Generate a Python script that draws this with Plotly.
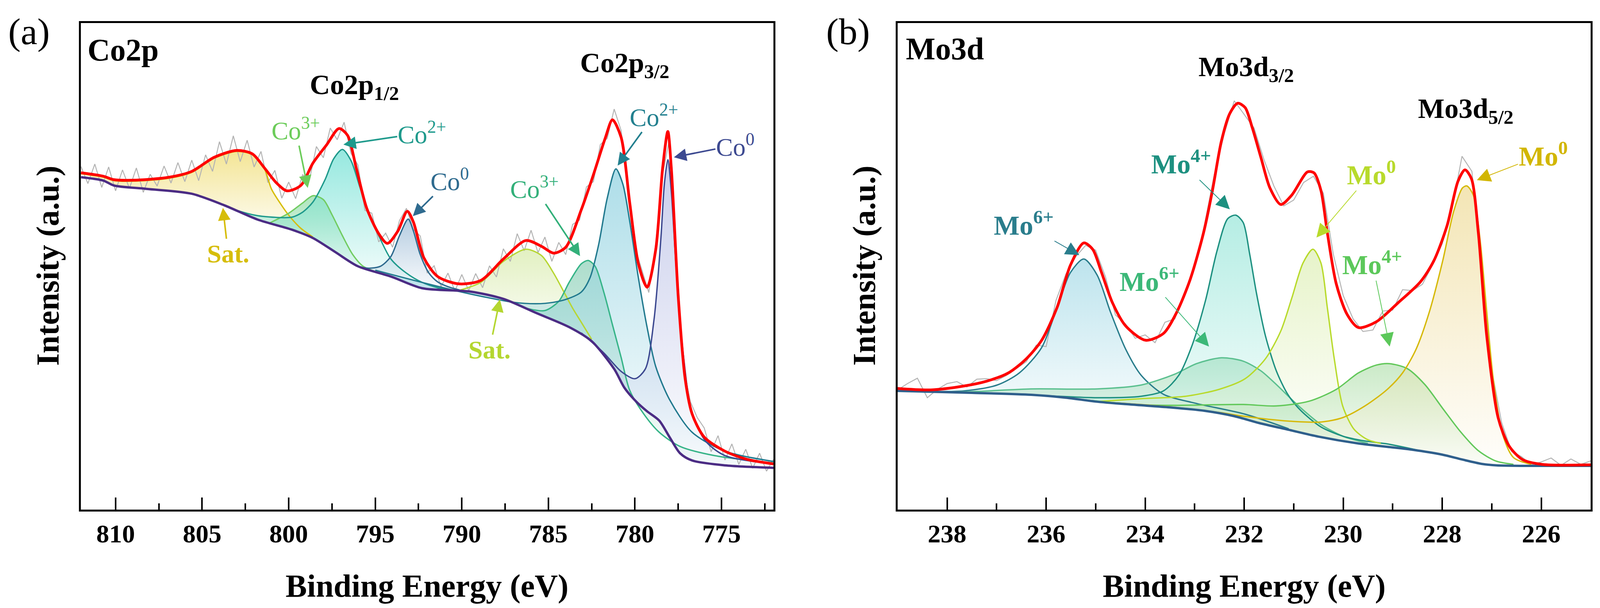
import plotly.graph_objects as go

# ── panel (a) Co2p : values ───────────────────────────────────────────────────

RED_A_E = [812.0, 810.7, 810.1, 808.8, 806.9, 805.6, 804.3, 803.0, 802.1, 801.4, 800.7, 800.1,
           799.3, 798.6, 797.8, 797.1, 796.6, 796.1, 795.5, 794.8, 794.3, 793.7, 793.15, 792.8,
           792.2, 791.4, 790.2, 788.9, 787.6, 786.3, 785.4, 784.7, 784.0, 783.1, 782.4, 781.7,
           781.3, 780.8, 780.3, 779.8, 779.3, 778.8, 778.4, 778.1, 777.9, 777.5, 777.1, 776.7,
           776.0, 774.8, 773.5, 772.0]
RED_A_I = [69.2, 68.5, 67.8, 67.7, 68.3, 69.5, 72.4, 73.8, 73.1, 70.2, 67.1, 65.5,
           66.6, 71.2, 75.0, 78.3, 76.9, 70.2, 62.0, 56.7, 54.7, 57.2, 61.3, 59.1,
           51.8, 47.9, 46.4, 47.1, 51.5, 55.3, 54.1, 52.7, 53.9, 61.6, 68.8, 76.5,
           80.1, 76.5, 63.0, 50.5, 45.7, 53.4, 70.2, 77.7, 70.2, 43.8, 26.9, 19.7,
           14.9, 12.0, 10.3, 9.4]

BG_A_E = [812.0, 810.7, 810.1, 808.2, 805.6, 803.7, 801.8, 799.8, 798.6, 797.3, 796.0, 794.1,
          792.3, 789.5, 787.6, 785.7, 783.8, 782.5, 781.2, 780.6, 779.9, 779.3, 778.6, 778.0,
          777.4, 776.7, 774.8, 772.0]
BG_A_I = [68.3, 67.6, 66.6, 65.9, 64.9, 62.5, 59.6, 57.5, 55.8, 52.9, 50.0, 47.9,
          45.5, 44.8, 43.3, 40.4, 37.5, 34.6, 28.9, 25.0, 22.1, 20.2, 18.3, 14.9,
          11.6, 10.1, 9.1, 8.6]

RAW_A_E = [812.0, 811.6, 811.2, 810.8, 810.4, 810.0, 809.6, 809.2, 808.8, 808.4, 808.0, 807.6,
           807.2, 806.8, 806.4, 806.0, 805.6, 805.2, 804.8, 804.4, 804.0, 803.6, 803.2, 802.8,
           802.4, 802.0, 801.6, 801.2, 800.8, 800.4, 800.0, 799.6, 799.2, 798.8, 798.4, 798.0,
           797.6, 797.2, 796.8, 796.4, 796.0, 795.6, 795.2, 794.8, 794.4, 794.0, 793.6, 793.2,
           792.8, 792.4, 792.0, 791.6, 791.2, 790.8, 790.4, 790.0, 789.6, 789.2, 788.8, 788.4,
           788.0, 787.6, 787.2, 786.8, 786.4, 786.0, 785.6, 785.2, 784.8, 784.4, 784.0, 783.6,
           783.2, 782.8, 782.4, 782.0, 781.6, 781.2, 780.8, 780.4, 780.0, 779.6, 779.2, 778.8,
           778.4, 778.0, 777.6, 777.2, 776.8, 776.4, 776.0, 775.6, 775.2, 774.8, 774.4, 774.0,
           773.6, 773.2, 772.8, 772.4, 772.0]
RAW_A_I = [70.5, 67.0, 71.0, 66.2, 70.4, 65.5, 69.8, 66.0, 70.2, 65.2, 68.9, 66.5,
           70.6, 67.1, 71.3, 67.4, 71.8, 67.6, 72.9, 69.5, 75.6, 71.0, 76.8, 71.5,
           75.9, 70.4, 73.6, 67.2, 69.7, 64.0, 67.3, 63.9, 68.8, 67.8, 74.6, 72.3,
           78.4, 76.0, 79.6, 73.2, 70.8, 61.5, 60.9, 55.0, 56.8, 53.9, 59.4, 61.9,
           57.6, 56.2, 48.6, 50.1, 45.8, 48.6, 44.9, 48.3, 45.0, 48.5, 45.6, 50.1,
           47.8, 53.6, 51.0, 56.7, 53.2, 57.4, 52.8, 56.0, 51.0, 54.9, 52.4, 58.6,
           59.5, 66.3, 67.4, 75.0, 76.3, 82.3, 77.9, 67.0, 53.9, 49.2, 44.6, 54.6,
           68.9, 76.3, 51.8, 29.4, 22.2, 18.9, 16.8, 11.9, 15.2, 10.2, 13.5, 9.3,
           12.4, 8.5, 11.6, 7.9, 10.3]

# fitted components (energy, intensity)
SAT1_A_E = [812.0, 810.7, 810.1, 808.8, 806.9, 805.6, 804.3, 803.0, 802.1, 801.4, 801.0, 800.5,
            800.0, 799.3, 798.6]
SAT1_A_I = [69.0, 68.3, 67.6, 67.5, 68.1, 69.3, 72.2, 73.6, 72.9, 70.0, 65.9, 63.0,
            60.5, 57.8, 56.0]
CO3_1_A_E = [801.1, 800.0, 799.2, 798.6, 798.0, 797.5, 796.9, 796.3, 795.7, 794.8]
CO3_1_A_I = [58.9, 60.9, 63.0, 64.5, 63.7, 60.6, 56.3, 52.4, 50.0, 48.7]
CO2_1_A_E = [804.5, 803.0, 801.8, 800.5, 799.8, 799.2, 798.6, 797.9, 797.4, 796.9, 796.4, 795.9,
             795.4, 794.8, 794.1, 793.2, 792.3, 791.4, 790.5]
CO2_1_A_I = [63.6, 61.5, 60.4, 60.0, 60.1, 61.1, 63.2, 67.8, 72.1, 74.0, 71.7, 66.4,
             61.1, 56.3, 51.5, 48.6, 46.7, 45.6, 45.0]
CO0_1_A_E = [796.0, 795.4, 794.7, 794.1, 793.6, 793.1, 792.8, 792.4, 791.9, 791.4, 790.8, 790.0]
CO0_1_A_I = [50.0, 49.6, 50.0, 52.0, 56.3, 59.7, 57.3, 52.4, 48.6, 46.8, 45.8, 45.0]
SAT2_A_E = [790.2, 788.9, 787.6, 786.3, 785.4, 784.7, 784.1, 783.6, 783.1, 782.5]
SAT2_A_I = [45.0, 46.7, 51.0, 53.5, 52.2, 48.6, 44.7, 41.4, 38.5, 35.0]
CO3_2_A_E = [786.3, 785.2, 784.4, 783.8, 783.1, 782.7, 782.3, 781.8, 781.3, 780.8, 780.3, 779.5,
             778.6, 777.4, 775.4, 772.0]
CO3_2_A_I = [41.4, 40.9, 42.8, 46.7, 50.5, 51.2, 50.0, 44.7, 38.0, 31.3, 24.5, 19.7,
             15.9, 13.0, 11.1, 9.6]
CO2_2_A_E = [795.0, 792.1, 789.5, 787.0, 785.7, 784.7, 783.9, 783.1, 782.6, 782.1, 781.6, 781.1,
             780.7, 780.3, 779.8, 779.3, 778.8, 778.0, 776.7, 774.8, 772.0]
CO2_2_A_I = [49.2, 46.5, 44.3, 42.6, 42.3, 42.6, 43.3, 44.7, 47.6, 54.4, 64.0, 70.0,
             66.9, 59.2, 47.6, 37.5, 29.4, 22.6, 15.9, 12.0, 9.9]
CO0_2_A_E = [783.1, 781.8, 780.8, 780.0, 779.4, 778.9, 778.5, 778.3, 778.1, 777.9, 777.6, 777.2,
             776.7, 775.9, 774.8, 772.0]
CO0_2_A_I = [36.3, 32.2, 28.4, 26.9, 28.9, 39.0, 55.8, 66.9, 71.9, 65.4, 48.6, 31.7,
             19.7, 14.0, 11.1, 9.4]

# ── panel (b) Mo3d ────────────────────────────────────────────────────────────

RED_B_E = [239.0, 238.33, 237.66, 237.2, 236.76, 236.4, 236.09, 235.78, 235.51, 235.24, 235.06,
           234.88, 234.66, 234.39, 233.99, 233.63, 233.36, 233.09, 232.82, 232.64, 232.46, 232.29,
           232.13, 231.98, 231.84, 231.66, 231.48, 231.26, 231.04, 230.72, 230.59, 230.45, 230.32,
           230.14, 229.92, 229.69, 229.33, 228.89, 228.44, 228.17, 227.9, 227.68, 227.54, 227.41,
           227.27, 227.1, 226.87, 226.65, 226.38, 225.98, 225.0]
RED_B_I = [24.9, 24.6, 25.4, 26.4, 28.1, 31.0, 34.8, 41.5, 50.2, 54.8, 53.5,
           48.7, 42.5, 37.7, 34.8, 36.2, 40.6, 47.3, 56.9, 65.6, 75.7, 81.4,
           83.5, 82.6, 78.6, 72.3, 66.1, 62.7, 64.6, 69.4, 69.2, 65.6, 56.9,
           46.4, 40.1, 37.4, 38.6, 42.5, 46.8, 51.1, 58.4, 67.5, 69.8, 68.0,
           56.9, 35.7, 18.9, 13.1, 10.3, 9.3, 9.2]

BG_B_E = [239.0, 237.5, 236.3, 235.6, 235.0, 234.3, 233.5, 232.8, 232.2, 231.7, 231.1, 230.5,
          229.7, 228.6, 228.0, 227.6, 227.2, 226.9, 225.0]
BG_B_I = [24.4, 24.0, 23.6, 23.0, 22.2, 21.6, 21.0, 20.3, 19.2, 17.8, 16.4, 15.0,
          13.6, 12.3, 11.3, 10.3, 9.4, 9.1, 9.0]

RAW_B_E = [239.0, 238.8, 238.6, 238.4, 238.2, 238.0, 237.8, 237.6, 237.4, 237.2, 237.0, 236.8,
           236.6, 236.4, 236.2, 236.0, 235.8, 235.6, 235.4, 235.2, 235.0, 234.8, 234.6, 234.4,
           234.2, 234.0, 233.8, 233.6, 233.4, 233.2, 233.0, 232.8, 232.6, 232.4, 232.2, 232.0,
           231.8, 231.6, 231.4, 231.2, 231.0, 230.8, 230.6, 230.4, 230.2, 230.0, 229.8, 229.6,
           229.4, 229.2, 229.0, 228.8, 228.6, 228.4, 228.2, 228.0, 227.8, 227.6, 227.4, 227.2,
           227.0, 226.8, 226.6, 226.4, 226.2, 226.0, 225.8, 225.6, 225.4, 225.2, 225.0]
RAW_B_I = [24.6, 25.9, 27.0, 23.0, 24.7, 25.9, 26.3, 25.2, 26.8, 26.9, 26.5, 27.6,
           29.0, 30.4, 33.8, 33.5, 43.0, 48.4, 52.0, 54.3, 53.3, 47.8, 40.0, 38.2,
           35.2, 35.9, 34.3, 38.5, 39.2, 44.8, 49.6, 58.6, 69.0, 77.3, 84.0, 81.2,
           78.4, 71.9, 66.5, 62.4, 63.6, 67.2, 68.5, 65.0, 52.5, 44.0, 39.2, 36.6,
           36.9, 40.8, 41.0, 45.2, 45.0, 46.3, 50.2, 54.6, 61.8, 72.6, 69.5, 48.9,
           28.8, 17.9, 12.0, 10.9, 9.2, 9.8, 10.6, 9.1, 10.4, 9.3, 10.0]

MO6_1_B_E = [239.0, 237.66, 236.99, 236.54, 236.09, 235.78, 235.51, 235.24, 234.97, 234.70,
             234.39, 234.08, 233.63, 232.96, 231.98, 231.1]
MO6_1_B_I = [24.4, 24.4, 25.6, 28.1, 33.3, 41.5, 48.7, 51.5, 48.2, 40.6,
             32.9, 27.6, 23.7, 21.8, 19.6, 16.6]
MO6_2_B_E = [239.0, 237.66, 236.31, 234.97, 234.08, 233.41, 232.96, 232.46, 232.02, 231.66,
             231.35, 230.9, 230.45, 230.01, 229.5]
MO6_2_B_I = [24.4, 24.2, 24.8, 24.8, 25.6, 27.8, 30.0, 31.2, 30.5, 28.5,
             25.7, 21.3, 17.5, 15.1, 13.6]
MO4_1_B_E = [236.5, 234.97, 234.08, 233.63, 233.32, 233.05, 232.78, 232.55, 232.33, 232.17,
             232.02, 231.89, 231.75, 231.57, 231.35, 231.12, 230.86, 230.45, 230.01, 229.56,
             229.11, 228.4]
MO4_1_B_I = [23.7, 23.0, 23.3, 24.4, 27.6, 33.8, 43.0, 53.1, 59.8, 60.5,
             59.0, 52.6, 44.4, 35.7, 28.5, 23.7, 20.4, 17.0, 15.1, 14.1,
             13.5, 12.0]
MO0_1_B_E = [235.0, 234.08, 233.18, 232.51, 231.98, 231.57, 231.26, 231.04, 230.81, 230.61,
             230.45, 230.32, 230.18, 230.01, 229.78, 229.51, 229.24]
MO0_1_B_I = [22.2, 22.8, 23.3, 24.7, 26.9, 31.0, 36.7, 43.4, 50.7, 53.5,
             50.7, 41.5, 31.0, 21.3, 16.5, 14.4, 13.6]
MO4_2_B_E = [236.0, 234.0, 232.02, 231.35, 230.68, 230.14, 229.69, 229.33, 229.07, 228.71,
             228.35, 227.99, 227.63, 227.28, 226.92, 226.56]
MO4_2_B_I = [23.4, 21.5, 21.6, 21.3, 22.3, 24.7, 28.1, 29.7, 30.0, 29.0,
             25.7, 20.8, 16.0, 12.2, 10.0, 9.3]
MO0_2_B_E = [234.97, 233.6, 232.46, 232.02, 231.12, 230.45, 230.01, 229.56, 229.11, 228.80,
             228.53, 228.26, 227.99, 227.77, 227.59, 227.5, 227.37, 227.23, 227.1, 226.96,
             226.78, 226.56, 226.2]
MO0_2_B_I = [22.2, 21.2, 19.9, 19.2, 18.2, 18.0, 18.9, 21.3, 24.7, 28.1,
             32.9, 40.6, 51.1, 61.2, 66.1, 66.5, 64.6, 55.0, 40.6, 26.1,
             15.5, 10.7, 9.3]

# ── styles ────────────────────────────────────────────────────────────────────

FONT = "Liberation Serif"

# (energies, intensities, line colour, fill rgb)
COMPONENTS_A = [
    (SAT1_A_E, SAT1_A_I, "#d6bd0a", (240, 222, 120)),
    (CO3_1_A_E, CO3_1_A_I, "#72cc62", (150, 222, 170)),
    (CO2_1_A_E, CO2_1_A_I, "#1f9a8c", (120, 226, 214)),
    (CO0_1_A_E, CO0_1_A_I, "#2f6b8f", (160, 190, 216)),
    (SAT2_A_E, SAT2_A_I, "#b7d634", (218, 236, 176)),
    (CO3_2_A_E, CO3_2_A_I, "#36b488", (150, 212, 190)),
    (CO2_2_A_E, CO2_2_A_I, "#21798e", (150, 212, 226)),
    (CO0_2_A_E, CO0_2_A_I, "#3c4890", (186, 192, 230)),
]
COMPONENTS_B = [
    (MO6_1_B_E, MO6_1_B_I, "#2a7d8c", (170, 220, 232)),
    (MO6_2_B_E, MO6_2_B_I, "#5cc090", (176, 224, 192)),
    (MO4_1_B_E, MO4_1_B_I, "#1d9080", (160, 232, 220)),
    (MO0_1_B_E, MO0_1_B_I, "#b8da2c", (224, 240, 186)),
    (MO4_2_B_E, MO4_2_B_I, "#62c85a", (188, 228, 184)),
    (MO0_2_B_E, MO0_2_B_I, "#d6b90a", (240, 222, 160)),
]


def rgba(rgb, a):
    return f"rgba({rgb[0]},{rgb[1]},{rgb[2]},{a})"


def add_panel(fig, xa, ya, comps, bg_e, bg_i, bg_color, raw_e, raw_i, red_e, red_i):
    # shaded areas: component curve down to the background
    for e, i, lc, frgb in comps:
        lo, hi = min(e), max(e)
        back = [(be, bi) for be, bi in zip(bg_e, bg_i) if lo < be < hi][::-1]
        px = list(e) + [p[0] for p in back]
        py = list(i) + [p[1] for p in back]
        fig.add_trace(go.Scatter(
            x=px, y=py, xaxis=xa, yaxis=ya, mode="lines", fill="toself",
            line=dict(width=0, shape="spline", smoothing=0.8),
            fillgradient=dict(type="vertical",
                              colorscale=[[0, rgba(frgb, 0.04)], [1, rgba(frgb, 0.78)]]),
            hoverinfo="skip", showlegend=False,
        ))
    # raw spectrum
    fig.add_trace(go.Scatter(x=raw_e, y=raw_i, xaxis=xa, yaxis=ya, mode="lines",
                             line=dict(color="#b4b4b4", width=2.5), showlegend=False))
    for e, i, lc, frgb in comps:
        fig.add_trace(go.Scatter(x=e, y=i, xaxis=xa, yaxis=ya, mode="lines",
                                 line=dict(color=lc, width=3.5, shape="spline", smoothing=0.8),
                                 showlegend=False))
    fig.add_trace(go.Scatter(x=bg_e, y=bg_i, xaxis=xa, yaxis=ya, mode="lines",
                             line=dict(color=bg_color, width=6, shape="spline", smoothing=0.8),
                             showlegend=False))
    fig.add_trace(go.Scatter(x=red_e, y=red_i, xaxis=xa, yaxis=ya, mode="lines",
                             line=dict(color="#ff0000", width=7, shape="spline", smoothing=0.8),
                             showlegend=False))


fig = go.Figure()
add_panel(fig, "x", "y", COMPONENTS_A, BG_A_E, BG_A_I, "#4b2c84",
          RAW_A_E, RAW_A_I, RED_A_E, RED_A_I)
add_panel(fig, "x2", "y2", COMPONENTS_B, BG_B_E, BG_B_I, "#2f5f8c",
          RAW_B_E, RAW_B_I, RED_B_E, RED_B_I)

xaxis_common = dict(
    showline=True, linewidth=5, linecolor="black", mirror=True,
    ticks="inside", ticklen=31, tickwidth=4, tickcolor="black",
    showgrid=False, zeroline=False, ticklabelstandoff=0,
    tickfont=dict(family=FONT, size=66, color="black", weight="bold"),
)
yaxis_common = dict(
    showline=True, linewidth=5, linecolor="black", mirror=True,
    showticklabels=False, ticks="", showgrid=False, zeroline=False,
    range=[0, 100], domain=[0.1618, 0.9623],
)

# figure fills the browser window (autosize), so the paper domains match it
fig.update_layout(
    autosize=True, margin=dict(l=0, r=0, t=0, b=0),
    paper_bgcolor="white", plot_bgcolor="white", showlegend=False,
    xaxis=dict(**xaxis_common, domain=[0.0506, 0.4834], range=[812, 772], anchor="y",
               tick0=0, dtick=5,
               minor=dict(ticks="inside", ticklen=16, tickwidth=4, tickcolor="black",
                          tick0=0, dtick=2.5)),
    yaxis=dict(**yaxis_common, anchor="x"),
    xaxis2=dict(**xaxis_common, domain=[0.5610, 0.9942], range=[239, 225], anchor="y2",
                tick0=0, dtick=2,
                minor=dict(ticks="inside", ticklen=16, tickwidth=4, tickcolor="black",
                           tick0=0, dtick=1)),
    yaxis2=dict(**yaxis_common, anchor="x2"),
)

ann = []


def text(x, y, s, color, size, ref="", bold=True, anchor="center"):
    ann.append(dict(x=x, y=y, xref="x" + ref, yref="y" + ref, text=s, showarrow=False,
                    xanchor=anchor, yanchor="middle",
                    font=dict(family=FONT, size=size, color=color,
                              weight="bold" if bold else "normal")))


def label(lx, ly, tx, ty, s, color, size, ref="", bold=False, width=4, head=1.6):
    # label at (lx, ly) with an arrow pointing at (tx, ty), both in data units
    ann.append(dict(x=tx, y=ty, xref="x" + ref, yref="y" + ref,
                    ax=lx, ay=ly, axref="x" + ref, ayref="y" + ref,
                    text=s, showarrow=True, arrowhead=2, arrowsize=head,
                    arrowwidth=width, arrowcolor=color, standoff=0,
                    font=dict(family=FONT, size=size, color=color,
                              weight="bold" if bold else "normal")))


# panel (a) labels
text(811.66, 94.4, "Co2p", "black", 80, anchor="left")
text(796.2, 86.9, "Co2p<sub>1/2</sub>", "black", 72)
text(780.6, 91.4, "Co2p<sub>3/2</sub>", "black", 72)
label(799.6, 78.2, 798.9, 66.1, "Co<sup>3+</sup>", "#6ccc5a", 65)
label(792.3, 77.4, 796.84, 75.0, "Co<sup>2+</sup>", "#1f9a8c", 65)
label(790.7, 67.8, 792.83, 60.3, "Co<sup>0</sup>", "#2f6b8f", 65)
label(803.5, 52.6, 803.8, 62.0, "Sat.", "#d6bd0a", 66, bold=True)
label(785.8, 66.2, 783.17, 52.1, "Co<sup>3+</sup>", "#33b07a", 65)
label(778.9, 81.0, 781.0, 70.7, "Co<sup>2+</sup>", "#23808f", 65)
label(774.2, 74.9, 777.75, 72.4, "Co<sup>0</sup>", "#3d4a91", 65)
label(788.4, 32.9, 787.8, 43.2, "Sat.", "#b4d630", 66, bold=True)

# panel (b) labels
text(238.85, 94.7, "Mo3d", "black", 80, ref="2", anchor="left")
text(231.96, 90.6, "Mo3d<sub>3/2</sub>", "black", 72, ref="2")
text(227.53, 82.0, "Mo3d<sub>5/2</sub>", "black", 72, ref="2")
mo = dict(ref="2", bold=True, width=2, head=3.5)
label(236.45, 58.8, 235.33, 52.3, "Mo<sup>6+</sup>", "#2a7d8c", 70, **mo)
label(233.91, 47.3, 232.71, 33.5, "Mo<sup>6+</sup>", "#3cb878", 70, **mo)
label(233.27, 71.4, 232.29, 61.7, "Mo<sup>4+</sup>", "#1d9080", 70, **mo)
label(229.43, 69.2, 230.54, 55.9, "Mo<sup>0</sup>", "#b8da2c", 70, **mo)
label(229.41, 50.7, 229.06, 33.5, "Mo<sup>4+</sup>", "#5cc85a", 70, **mo)
label(225.96, 73.0, 227.30, 67.7, "Mo<sup>0</sup>", "#d2b600", 70, **mo)

# panel letters and axis titles (paper coordinates, centred)
for x, s in [(0.01825, "(a)"), (0.530, "(b)")]:
    ann.append(dict(x=x, y=0.948, xref="paper", yref="paper", text=s, showarrow=False,
                    xanchor="center", yanchor="middle",
                    font=dict(family=FONT, size=96, color="black")))
for x in [0.0300, 0.5402]:
    ann.append(dict(x=x, y=0.5633, xref="paper", yref="paper", text="Intensity (a.u.)",
                    textangle=-90, showarrow=False, xanchor="center", yanchor="middle",
                    font=dict(family=FONT, size=82, color="black", weight="bold")))
for x in [0.2669, 0.7775]:
    ann.append(dict(x=x, y=0.0366, xref="paper", yref="paper", text="Binding Energy (eV)",
                    showarrow=False, xanchor="center", yanchor="middle",
                    font=dict(family=FONT, size=82, color="black", weight="bold")))

fig.update_layout(annotations=ann)
fig.write_html(
    "out.html",
    config={"displayModeBar": False},
    post_script="document.body.style.margin='0px';document.body.style.overflow='hidden';"
                "Plotly.Plots.resize(document.getElementById('{plot_id}'));",
)
